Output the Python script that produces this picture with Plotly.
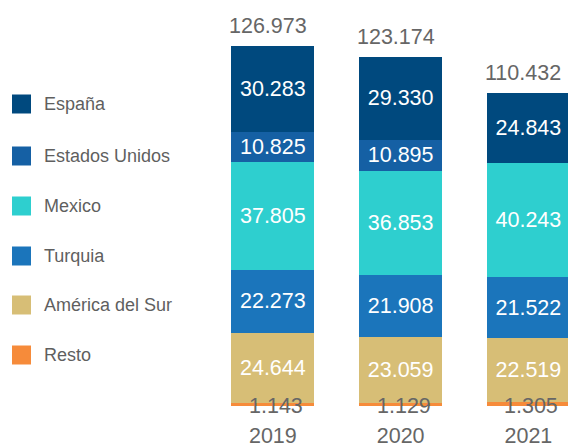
import plotly.graph_objects as go

years = ['2019', '2020', '2021']
regions = ['España', 'Estados Unidos', 'Mexico', 'Turquia', 'América del Sur', 'Resto']
colors = ['#00497e', '#1560a4', '#2ecfcf', '#1b75bb', '#d7be76', '#f68b3a']

# valores por region (en miles)
espana = [30283, 29330, 24843]
estados_unidos = [10825, 10895, 0]
mexico = [37805, 36853, 40243]
turquia = [22273, 21908, 21522]
america_sur = [24644, 23059, 22519]
resto = [1143, 1129, 1305]
totales = [126973, 123174, 110432]

series = [espana, estados_unidos, mexico, turquia, america_sur, resto]


def fmt(v):
    return f'{v:,}'.replace(',', '.')


W, H = 568, 445
bottom_px = 406
FONT = 'Liberation Sans'
GRAY = '#666666'

fig = go.Figure()

# apilar desde abajo: Resto, America del Sur, Turquia, Mexico, EEUU, España
for name, vals, col in reversed(list(zip(regions, series, colors))):
    if name == 'Resto':
        txt = ['' for v in vals]
    else:
        txt = [fmt(v) if v > 0 else '' for v in vals]
    fig.add_trace(go.Bar(
        x=years, y=vals, name=name, marker_color=col,
        marker_line_width=0, width=0.65,
        text=txt, textposition='inside', insidetextanchor='middle',
        textangle=0,
        textfont=dict(color='white', size=21.5, family=FONT),
        showlegend=False, hoverinfo='skip',
    ))

# totales arriba
for i, t in enumerate(totales):
    fig.add_annotation(x=i, y=t, xref='x', yref='y', text=fmt(t), showarrow=False,
                       yanchor='bottom', yshift=6, xshift=-5,
                       font=dict(size=21.5, color=GRAY, family=FONT))

# etiquetas de Resto
for i, v in enumerate(resto):
    fig.add_annotation(x=i, y=0, xref='x', yref='y', text=fmt(v), showarrow=False,
                       yanchor='middle', xshift=3,
                       font=dict(size=21.5, color=GRAY, family=FONT))

# leyenda manual
legend_y = [104, 156, 206, 256, 305, 355]
for name, col, py in zip(regions, colors, legend_y):
    yc = (bottom_px - py) / bottom_px
    fig.add_shape(type='rect', xref='paper', yref='paper',
                  x0=12 / W, x1=31 / W,
                  y0=yc - 9.5 / bottom_px, y1=yc + 9.5 / bottom_px,
                  fillcolor=col, line_width=0)
    fig.add_annotation(xref='paper', yref='paper', x=42 / W, y=yc,
                       text=name, showarrow=False, xanchor='left', yanchor='middle',
                       font=dict(size=18, color='#5f5f5f', family=FONT))

fig.update_layout(
    width=W, height=H,
    barmode='stack',
    margin=dict(l=0, r=0, t=0, b=H - bottom_px),
    plot_bgcolor='white', paper_bgcolor='white',
    uniformtext=dict(mode='show', minsize=10),
    xaxis=dict(type='category', domain=[209 / W, 1], range=[-0.5, 2.31],
               showgrid=False, showline=False, zeroline=False, ticks='',
               automargin=False, fixedrange=True,
               tickfont=dict(size=21.5, color=GRAY, family=FONT),
               ticklabelstandoff=14),
    yaxis=dict(range=[0, 143100], visible=False, automargin=False, fixedrange=True),
)

# quitar el margen por defecto del body para que la figura llene la ventana
fig.write_html('out.html',
               config={'displayModeBar': False},
               post_script="document.body.style.margin='0';"
                           "document.body.style.overflow='hidden';")
